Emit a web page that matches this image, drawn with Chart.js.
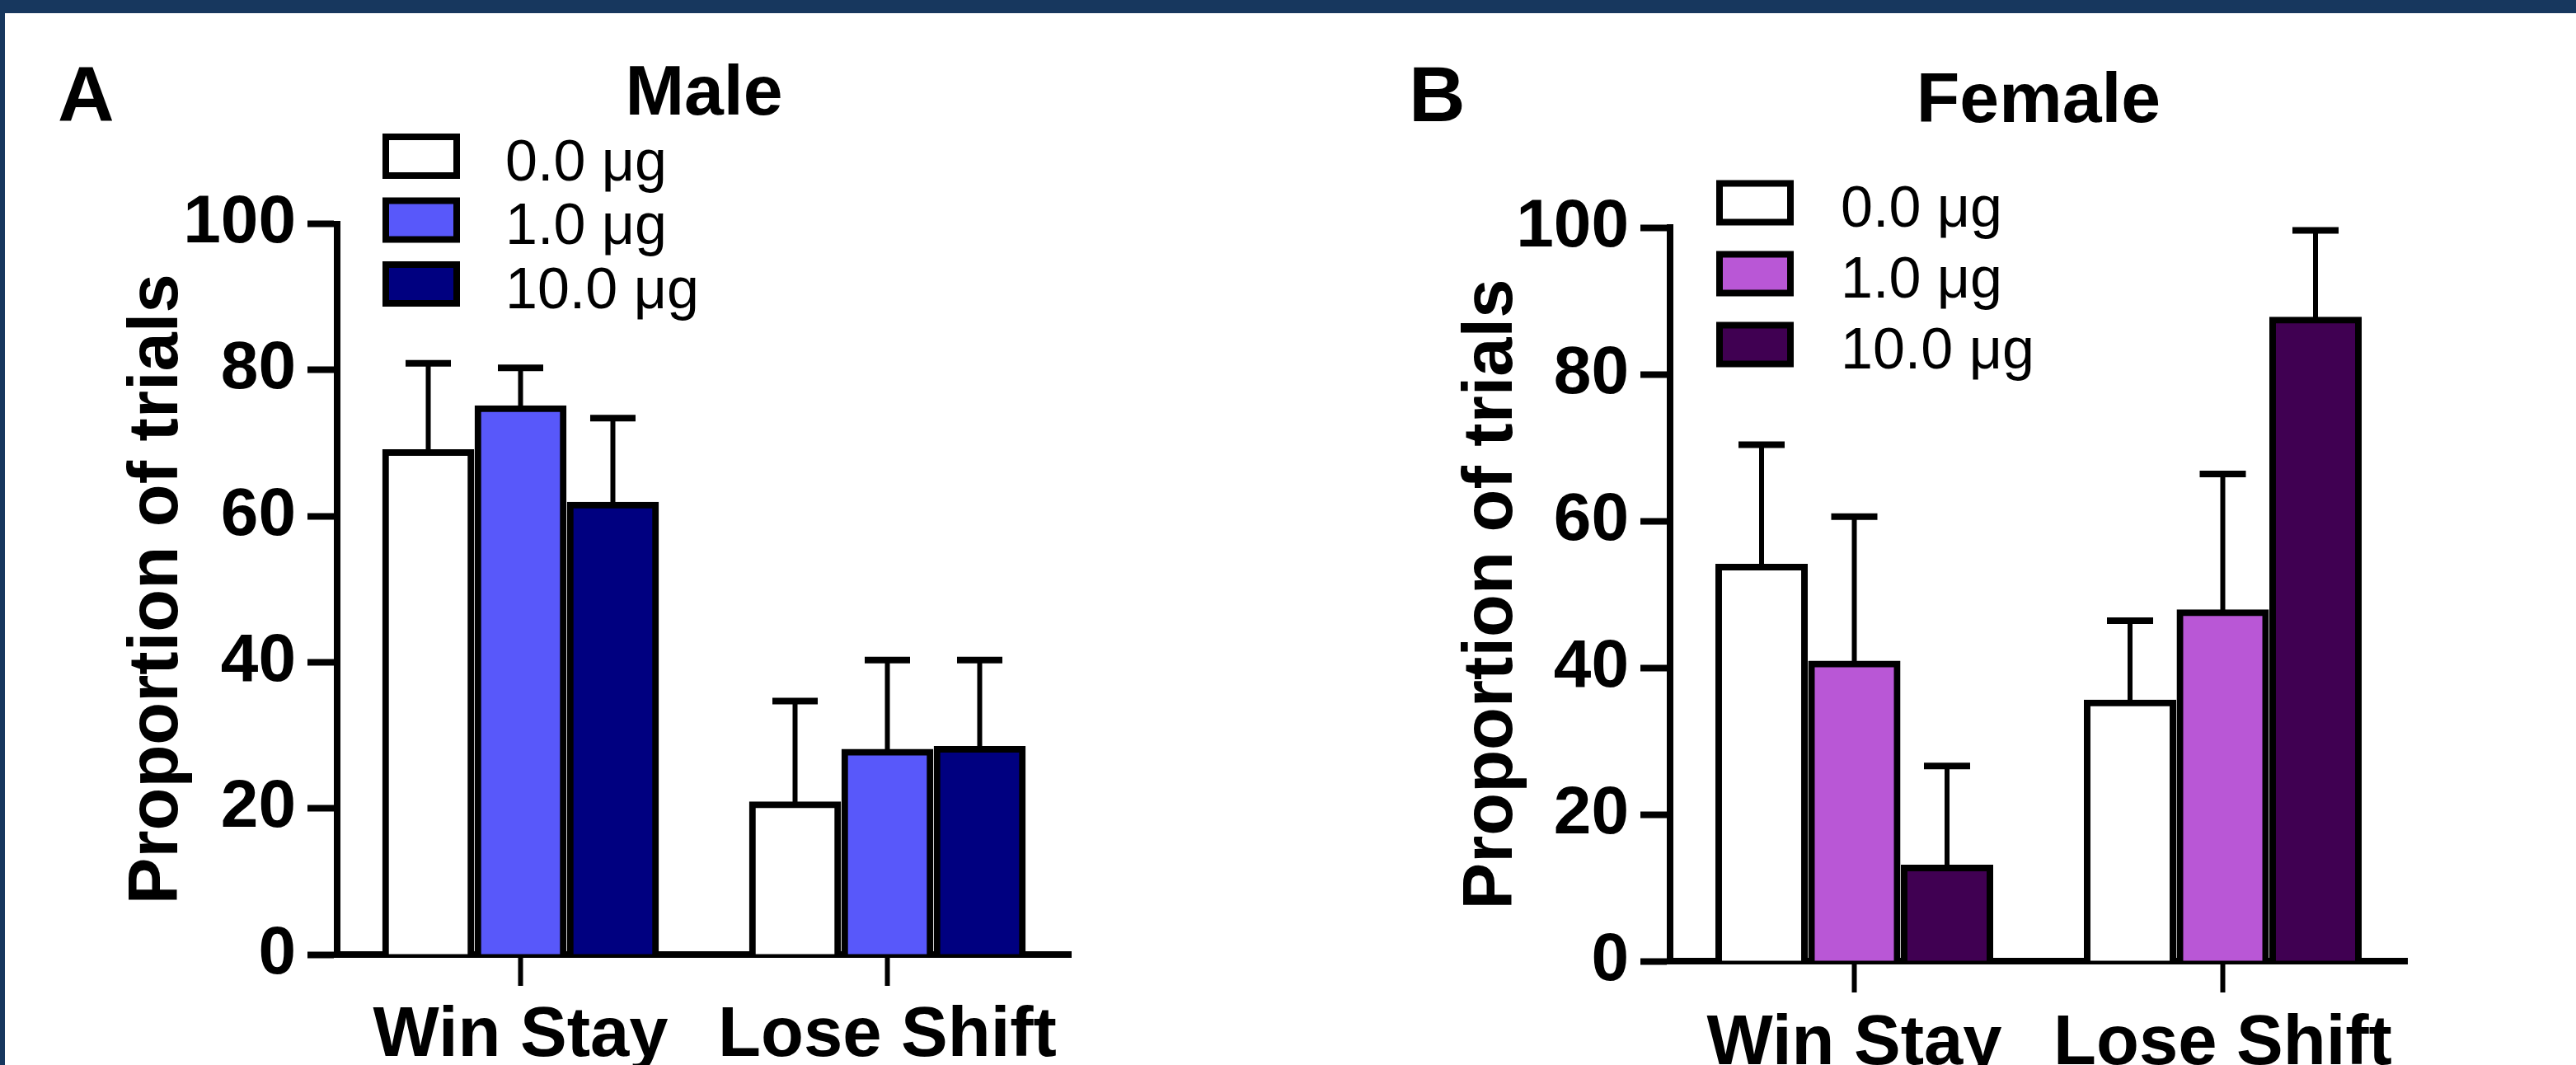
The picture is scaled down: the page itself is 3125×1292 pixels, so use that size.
<!DOCTYPE html>
<html>
<head>
<meta charset="utf-8">
<script src="https://cdn.jsdelivr.net/npm/chart.js@4.4.1/dist/chart.umd.min.js"></script>
<style>
html, body { margin: 0; padding: 0; background: #ffffff; overflow: hidden; width: 3125px; height: 1292px; }
#topbar { position: absolute; left: 0; top: 0; width: 3125px; height: 16px; background: #17375e; z-index: 5; }
#leftbar { position: absolute; left: 0; top: 0; width: 6px; height: 1292px; background: #17375e; z-index: 5; }
canvas { position: absolute; top: 0; }
#male { left: 0; }
#female { left: 1560px; }
</style>
</head>
<body>
<div id="topbar"></div>
<div id="leftbar"></div>
<canvas id="male" width="1560" height="1340"></canvas>
<canvas id="female" width="1565" height="1340"></canvas>
<script>
// ---------- data ----------
const categories = ['Win Stay', 'Lose Shift'];
const doseLabels = ['0.0 μg', '1.0 μg', '10.0 μg'];
const yTicks = [0, 20, 40, 60, 80, 100];
const panelTitles = ['Male', 'Female'];
const panelLetters = ['A', 'B'];
const yAxisTitle = 'Proportion of trials';

// Male means and upper error (SEM)
const male0 = [68.7, 20.5];
const male1 = [74.7, 27.7];
const male10 = [61.5, 28.1];
const male0Err = [12.2, 14.2];
const male1Err = [5.6, 12.6];
const male10Err = [11.9, 12.2];

// Female means and upper error (SEM)
const female0 = [53.7, 35.2];
const female1 = [40.5, 47.5];
const female10 = [12.7, 87.4];
const female0Err = [16.7, 11.2];
const female1Err = [20.1, 18.9];
const female10Err = [13.9, 12.2];

const maleColors = ['#ffffff', '#5858fa', '#000080'];
const femaleColors = ['#ffffff', '#b957d6', '#400052'];

const FONT = "'Liberation Sans', Arial, Helvetica, sans-serif";

// ---------- plugins ----------
const errPlugin = {
  id: 'errbars',
  afterDatasetsDraw(chart, args, o) {
    const ctx = chart.ctx, ys = chart.scales.y;
    ctx.save();
    ctx.strokeStyle = '#000';
    ctx.lineCap = 'butt';
    chart.data.datasets.forEach((ds, i) => {
      const meta = chart.getDatasetMeta(i);
      meta.data.forEach((bar, j) => {
        const v = ds.data[j], e = ds.errorUp[j];
        const y0 = ys.getPixelForValue(v);
        const y1 = ys.getPixelForValue(v + e);
        ctx.lineWidth = o.stemWidth;
        ctx.beginPath();
        ctx.moveTo(bar.x, y0);
        ctx.lineTo(bar.x, y1);
        ctx.stroke();
        ctx.lineWidth = o.capWidth;
        ctx.beginPath();
        ctx.moveTo(bar.x - o.capLen / 2, y1);
        ctx.lineTo(bar.x + o.capLen / 2, y1);
        ctx.stroke();
      });
    });
    ctx.restore();
  }
};

const decorPlugin = {
  id: 'decor',
  afterDraw(chart, args, o) {
    const ctx = chart.ctx;
    ctx.save();
    ctx.fillStyle = '#000';
    ctx.textAlign = 'left';
    ctx.textBaseline = 'alphabetic';
    ctx.font = `bold 95px ${FONT}`;
    ctx.fillText(o.letter, o.letterX, o.letterY);
    chart.data.datasets.forEach((ds, i) => {
      const cy = o.legY + i * o.legGap;
      const x = o.legX, y = cy - o.boxH / 2;
      ctx.fillStyle = ds.backgroundColor;
      ctx.fillRect(x + 4, y + 4, o.boxW - 8, o.boxH - 8);
      ctx.lineWidth = 8;
      ctx.strokeStyle = '#000';
      ctx.strokeRect(x + 4, y + 4, o.boxW - 8, o.boxH - 8);
      ctx.fillStyle = '#000';
      ctx.font = `70px ${FONT}`;
      ctx.fillText(ds.label, o.textX, cy + 29);
    });
    ctx.restore();
  }
};

function makeChart(id, cfg) {
  return new Chart(document.getElementById(id), {
    type: 'bar',
    data: {
      labels: categories,
      datasets: cfg.series.map((s, i) => ({
        label: doseLabels[i],
        data: s[0],
        errorUp: s[1],
        backgroundColor: cfg.colors[i],
        borderColor: '#000',
        borderWidth: 8,
        borderSkipped: 'start',
        inflateAmount: 4,
        categoryPercentage: 0.755,
        barPercentage: 0.925
      }))
    },
    options: {
      responsive: false,
      animation: false,
      devicePixelRatio: 1,
      layout: { padding: { left: 0, right: cfg.padRight, top: 0, bottom: cfg.padBottom } },
      plugins: {
        legend: { display: false },
        tooltip: { enabled: false },
        title: {
          display: true, text: cfg.title, fullSize: false, color: '#000',
          font: { family: FONT, size: 86, weight: 'bold', lineHeight: 1.2 },
          padding: { top: cfg.titleTop, bottom: cfg.titleBottom }
        },
        errbars: { stemWidth: 6, capWidth: 8, capLen: cfg.capLen },
        decor: cfg.decor
      },
      scales: {
        x: {
          z: 1,
          offset: true,
          grid: { display: true, drawOnChartArea: false, drawTicks: true, offset: false,
                  tickLength: 38, tickWidth: 6, tickColor: '#000', color: '#000' },
          border: { display: true, color: '#000', width: 8 },
          ticks: { color: '#000', padding: cfg.xPad, maxRotation: 0, autoSkip: false,
                   font: { family: FONT, size: 85, weight: 'bold', lineHeight: 1.2 } }
        },
        y: {
          min: 0, max: 100,
          afterFit: s => { s.width = cfg.yWidth; },
          afterBuildTicks: s => { s.ticks = yTicks.map(v => ({ value: v })); },
          grid: { drawOnChartArea: false, drawTicks: true, tickLength: 36, tickWidth: 8, tickColor: '#000', color: '#000' },
          border: { display: true, color: '#000', width: 8 },
          ticks: { color: '#000', padding: 14,
                   font: { family: FONT, size: 82, weight: 'bold', lineHeight: 1.2 } },
          title: {
            display: true, text: yAxisTitle, color: '#000',
            font: { family: FONT, size: 85, weight: 'bold', lineHeight: 1.2 },
            padding: { top: cfg.yTitlePad, bottom: 0 }
          }
        }
      }
    },
    plugins: [errPlugin, decorPlugin]
  });
}

makeChart('male', {
  title: panelTitles[0],
  series: [[male0, male0Err], [male1, male1Err], [male10, male10Err]],
  colors: maleColors,
  padRight: 261, padBottom: 20,
  titleTop: 64, titleBottom: 104.3,
  xPad: 11, yWidth: 409, yTitlePad: 140.5, capLen: 55,
  decor: { letter: panelLetters[0], letterX: 70, letterY: 147,
           legX: 464, legY: 189.5, legGap: 77.5, boxW: 94, boxH: 55, textX: 613 }
});

makeChart('female', {
  title: panelTitles[1],
  series: [[female0, female0Err], [female1, female1Err], [female10, female10Err]],
  colors: femaleColors,
  padRight: 205, padBottom: 9,
  titleTop: 73, titleBottom: 99.8,
  xPad: 12.5, yWidth: 466, yTitlePad: 199.5, capLen: 56,
  decor: { letter: panelLetters[1], letterX: 149, letterY: 147,
           legX: 522, legY: 246, legGap: 86, boxW: 94, boxH: 55, textX: 673 }
});
</script>
</body>
</html>
